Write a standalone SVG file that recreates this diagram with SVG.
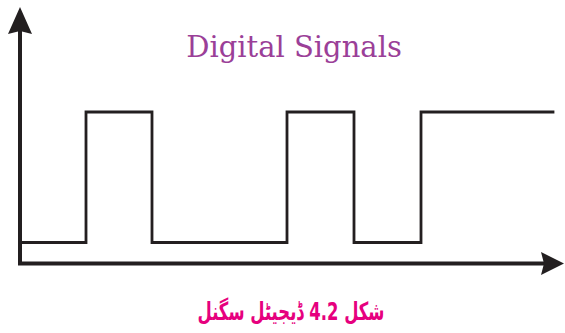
<svg xmlns="http://www.w3.org/2000/svg" width="565" height="333" viewBox="0 0 565 333">
  <style>
    .axis { stroke: #231f20; stroke-width: 4; fill: none; }
    .head { fill: #231f20; }
    .wave { stroke: #231f20; stroke-width: 2.8; fill: none; stroke-linejoin: miter; stroke-linecap: square; }
    .title { font-family: "DejaVu Serif", "Liberation Serif", serif; font-size: 29px; fill: #9b3f98; }
    .caption { font-family: "DejaVu Sans", "Noto Sans", sans-serif; font-size: 25px; font-weight: bold; fill: #e6007e; }
  </style>

  <!-- axes -->
  <g id="axes">
    <line class="axis" x1="20" y1="30" x2="20" y2="265"/>
    <line class="axis" x1="18" y1="263.5" x2="545" y2="263.5"/>
    <polygon class="head" points="20,7 32,34 20,31 8,34"/>
    <polygon class="head" points="564,263.5 541,252 544,263.5 541,275"/>
  </g>

  <!-- square wave -->
  <g id="signal">
    <polyline class="wave" points="21,242.5 86,242.5 86,112 152,112 152,242.5 287,242.5 287,112 354,112 354,242.5 421,242.5 421,112 553,112"/>
  </g>

  <text class="title" x="294" y="57" text-anchor="middle">Digital Signals</text>

  <text class="caption" x="291" y="320" text-anchor="middle" direction="rtl" textLength="187" lengthAdjust="spacingAndGlyphs">شکل 4.2 ڈیجیٹل سگنل</text>
</svg>
